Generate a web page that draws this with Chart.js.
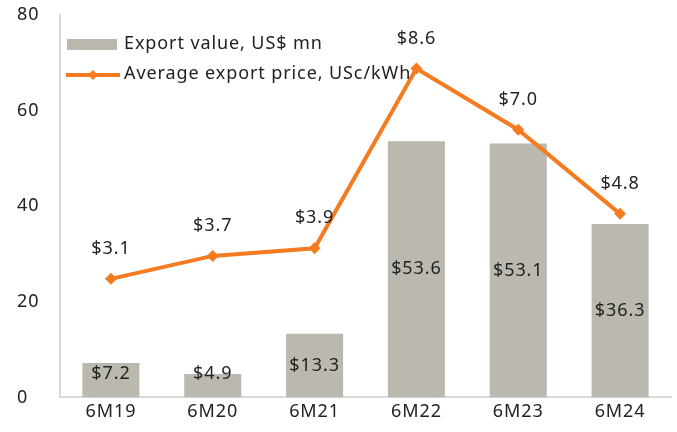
<!DOCTYPE html>
<html>
<head>
<meta charset="utf-8">
<script src="https://cdn.jsdelivr.net/npm/chart.js@4/dist/chart.umd.min.js"></script>
<style>
  html, body { margin: 0; padding: 0; background: #fff; }
  #wrap { width: 677px; height: 432px; }
</style>
</head>
<body>
<div id="wrap"><canvas id="myChart" width="677" height="432"></canvas></div>
<script>
const periods = ['6M19', '6M20', '6M21', '6M22', '6M23', '6M24'];
const exportValue = [7.2, 4.9, 13.3, 53.6, 53.1, 36.3];
const exportPrice = [3.1, 3.7, 3.9, 8.6, 7.0, 4.8];
const leftTicks = [0, 20, 40, 60, 80];

const FONT = '"Noto Sans", Lato, sans-serif';
const SIZE = 18;
const GREY = '#bbb8af';
const ORANGE = '#f47b20';

// the original font is a bit wider, so open the letters up slightly
const spacing = {
    id: 'spacing',
    beforeUpdate(chart) { chart.ctx.letterSpacing = '0.9px'; },
    beforeDraw(chart) { chart.ctx.letterSpacing = '0.9px'; }
};

// value labels: bars in the middle, line points above
const valueLabels = {
    id: 'valueLabels',
    afterDatasetsDraw(chart) {
        const ctx = chart.ctx;
        ctx.save();
        ctx.font = SIZE + 'px ' + FONT;
        ctx.fillStyle = '#222';
        ctx.textAlign = 'center';
        ctx.textBaseline = 'middle';
        chart.getDatasetMeta(1).data.forEach((bar, i) => {
            const mid = (bar.y + bar.base) / 2;
            ctx.fillText('$' + exportValue[i].toFixed(1), bar.x, Math.min(mid, bar.base - 24));
        });
        chart.getDatasetMeta(0).data.forEach((pt, i) => {
            ctx.fillText('$' + exportPrice[i].toFixed(1), pt.x, pt.y - 30);
        });
        ctx.restore();
    }
};

// legend inside the plot, top-left
const insideLegend = {
    id: 'insideLegend',
    afterDraw(chart) {
        const ctx = chart.ctx;
        const x = chart.chartArea.left + 6;
        ctx.save();
        ctx.font = SIZE + 'px ' + FONT;
        ctx.textBaseline = 'middle';
        ctx.fillStyle = GREY;
        ctx.fillRect(x + 1, 39, 50, 11);
        ctx.fillStyle = '#222';
        ctx.fillText(chart.data.datasets[1].label, x + 58, 44);
        ctx.strokeStyle = ORANGE;
        ctx.lineWidth = 4;
        ctx.beginPath();
        ctx.moveTo(x, 75);
        ctx.lineTo(x + 54, 75);
        ctx.stroke();
        ctx.fillStyle = ORANGE;
        ctx.beginPath();
        ctx.moveTo(x + 27, 70);
        ctx.lineTo(x + 32, 75);
        ctx.lineTo(x + 27, 80);
        ctx.lineTo(x + 22, 75);
        ctx.closePath();
        ctx.fill();
        ctx.fillStyle = '#222';
        ctx.fillText(chart.data.datasets[0].label, x + 58, 74);
        ctx.restore();
    }
};

new Chart(document.getElementById('myChart').getContext('2d'), {
    data: {
        labels: periods,
        datasets: [{
            type: 'line',
            label: 'Average export price, USc/kWh',
            data: exportPrice,
            yAxisID: 'y1',
            borderColor: ORANGE,
            backgroundColor: ORANGE,
            borderWidth: 4,
            pointStyle: 'rectRot',
            pointRadius: 6,
            pointHoverRadius: 6,
            pointBorderWidth: 0,
            tension: 0
        }, {
            type: 'bar',
            label: 'Export value, US$ mn',
            data: exportValue,
            yAxisID: 'y',
            backgroundColor: GREY,
            categoryPercentage: 1,
            barPercentage: 0.56
        }]
    },
    options: {
        responsive: false,
        animation: false,
        layout: { padding: { top: 15, right: 6, left: 17, bottom: 5 } },
        plugins: {
            legend: { display: false },
            tooltip: { enabled: false }
        },
        scales: {
            x: {
                grid: { display: false, drawTicks: false },
                border: { color: '#d9d9d9', width: 2 },
                ticks: { color: '#222', font: { family: FONT, size: SIZE }, padding: 4 }
            },
            y: {
                min: 0,
                max: 80,
                afterBuildTicks(scale) { scale.ticks = leftTicks.map(v => ({ value: v })); },
                afterFit(scale) { scale.width = 43; },
                grid: { display: false, drawTicks: false },
                border: { color: '#d9d9d9', width: 2 },
                ticks: { color: '#222', font: { family: FONT, size: SIZE }, padding: 2, crossAlign: 'far' }
            },
            y1: {
                min: 0,
                max: 10,
                display: false
            }
        }
    },
    plugins: [spacing, valueLabels, insideLegend]
});
</script>
</body>
</html>
